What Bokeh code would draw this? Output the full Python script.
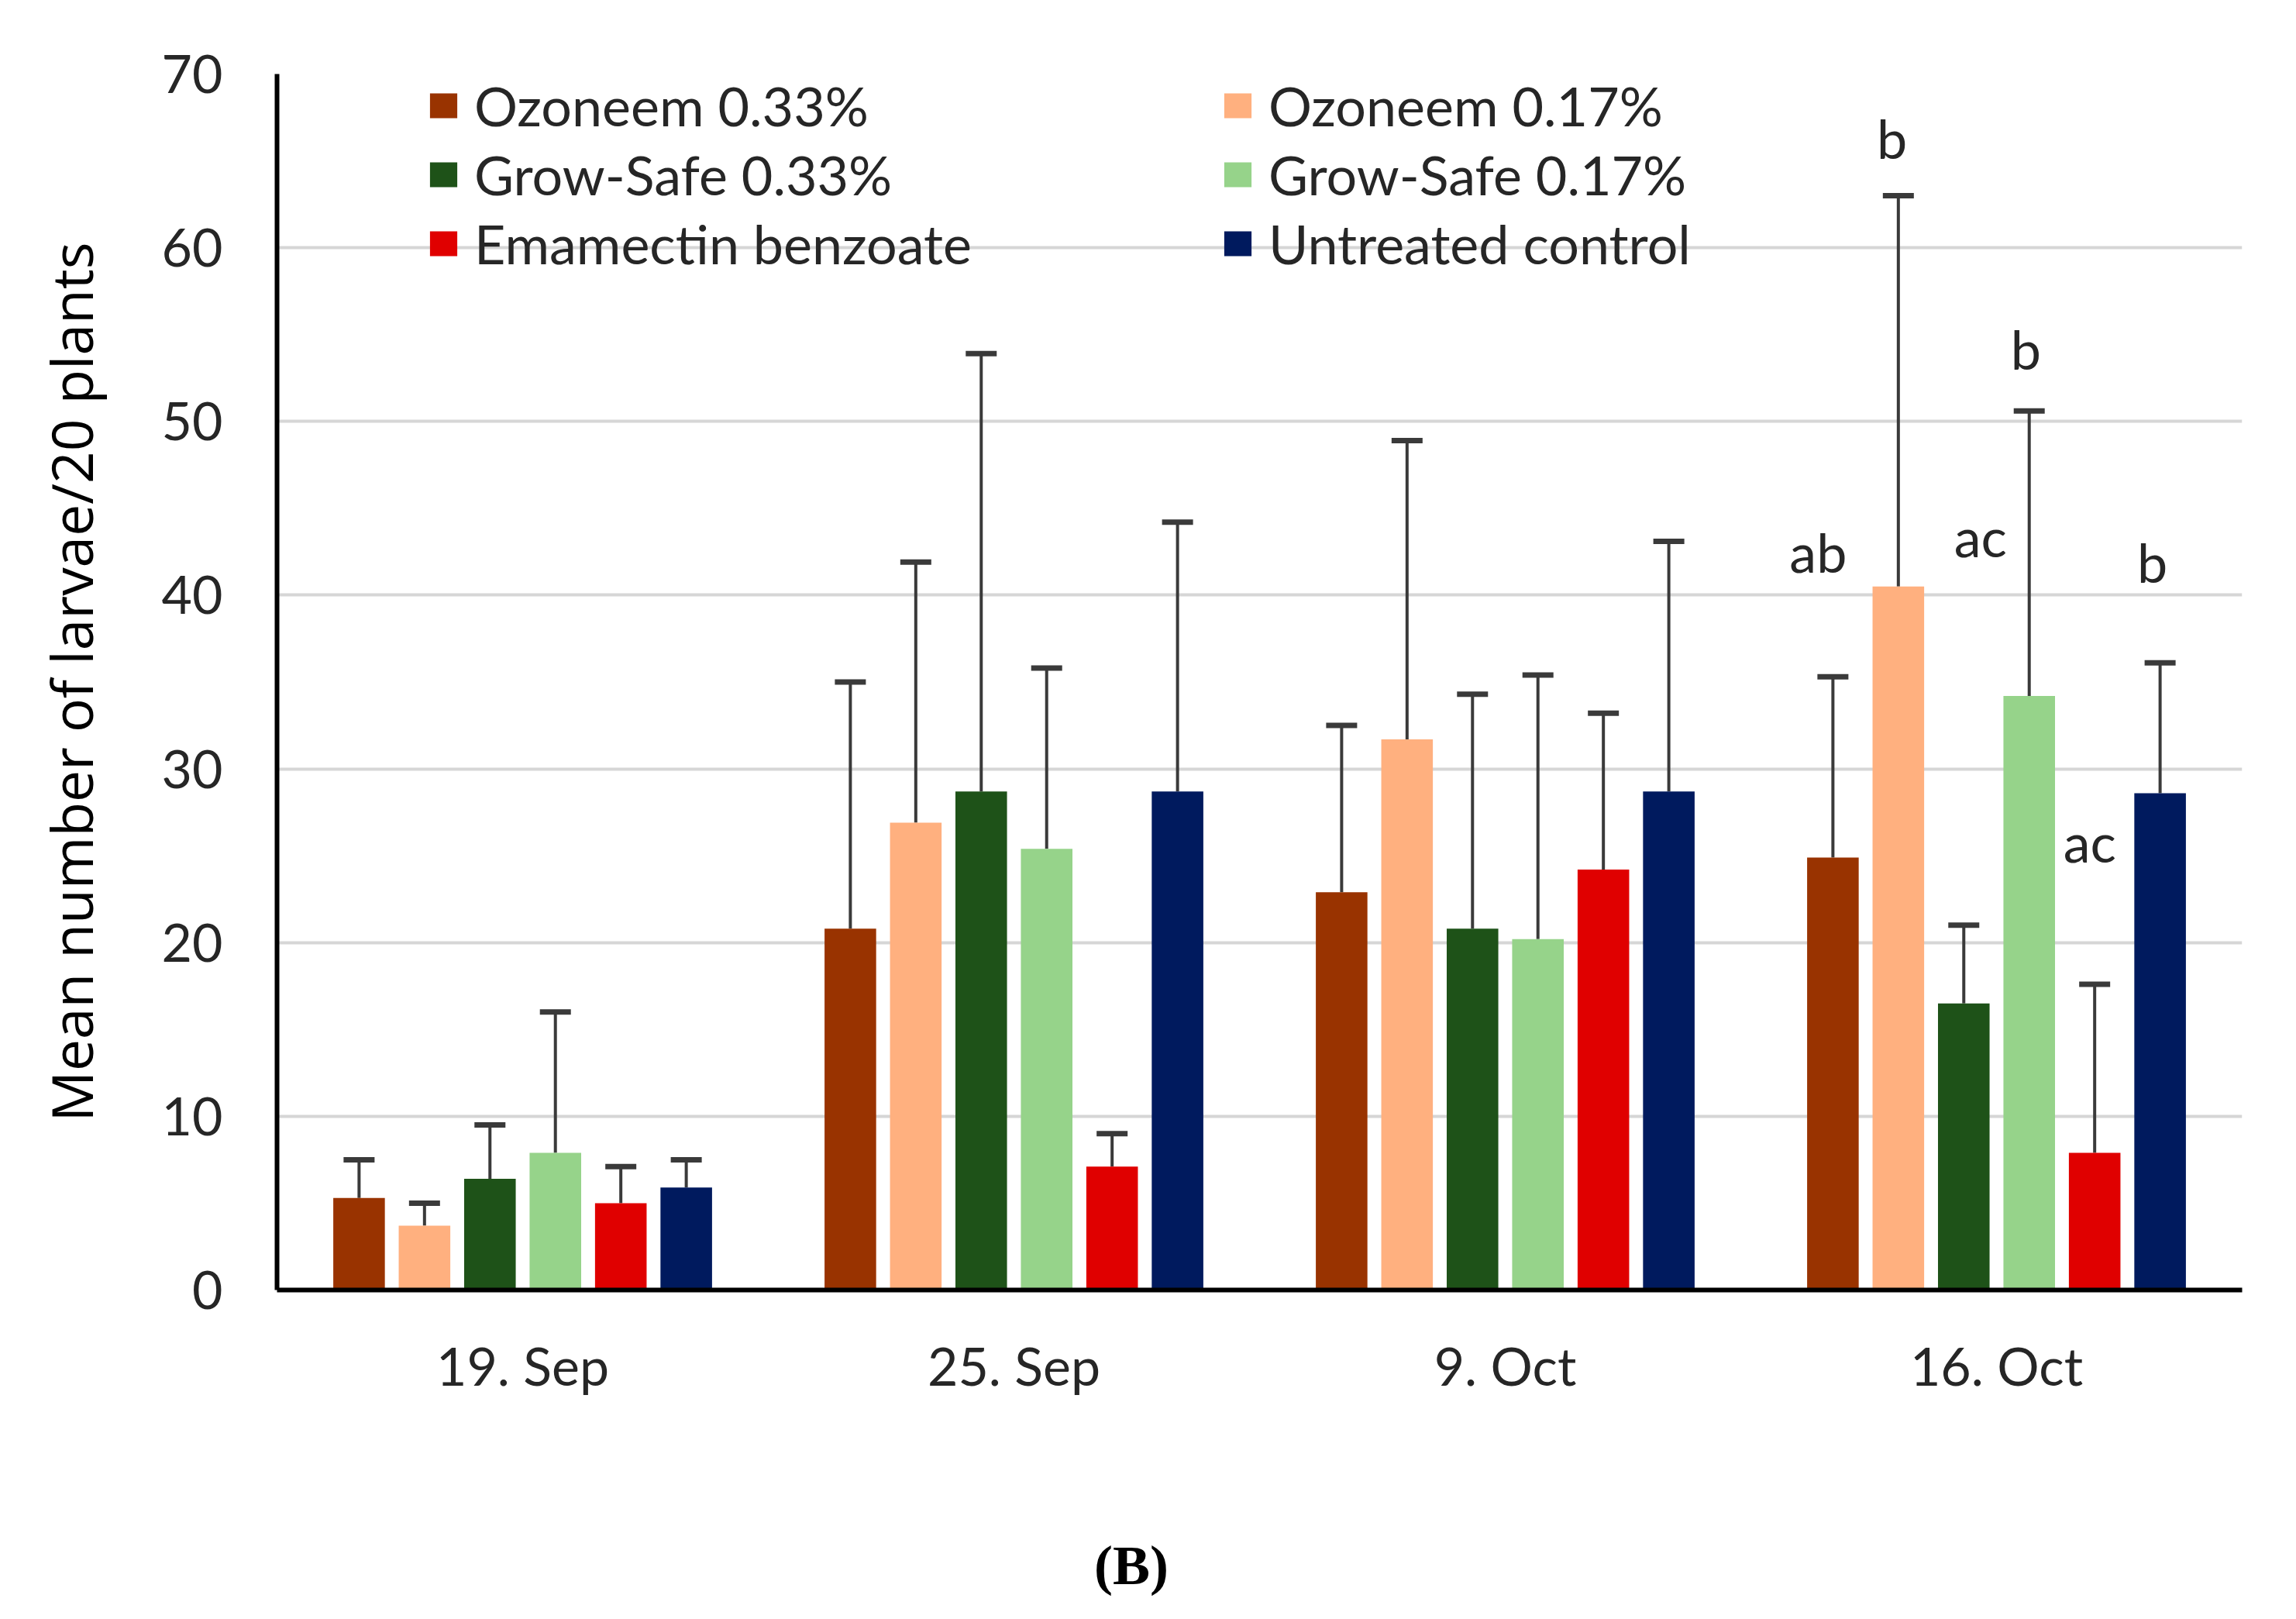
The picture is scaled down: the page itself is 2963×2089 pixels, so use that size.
from bokeh.plotting import figure
from bokeh.models import (ColumnDataSource, FactorRange, Range1d, Whisker, TeeHead,
                          Legend, LegendItem, FixedTicker, Div)
from bokeh.layouts import column
from bokeh.transform import dodge
from bokeh.core.properties import value
from bokeh.embed import file_html
from bokeh.resources import INLINE

# ---------------- data ----------------
dates = ["19. Sep", "25. Sep", "9. Oct", "16. Oct"]
series = ["Ozoneem 0.33%", "Ozoneem 0.17%", "Grow-Safe 0.33%",
          "Grow-Safe 0.17%", "Emamectin benzoate", "Untreated control"]
colors = ["#993300", "#FFB07F", "#1E5218", "#96D38A", "#E00000", "#001A5E"]

ozoneem_033 = [5.3, 20.8, 22.9, 24.9]
ozoneem_017 = [3.7, 26.9, 31.7, 40.5]
growsafe_033 = [6.4, 28.7, 20.8, 16.5]
growsafe_017 = [7.9, 25.4, 20.2, 34.2]
emamectin = [5.0, 7.1, 24.2, 7.9]
control = [5.9, 28.7, 28.7, 28.6]

ozoneem_033_err = [7.5, 35.0, 32.5, 35.3]
ozoneem_017_err = [5.0, 41.9, 48.9, 63.0]
growsafe_033_err = [9.5, 53.9, 34.3, 21.0]
growsafe_017_err = [16.0, 35.8, 35.4, 50.6]
emamectin_err = [7.1, 9.0, 33.2, 17.6]
control_err = [7.5, 44.2, 43.1, 36.1]

means = [ozoneem_033, ozoneem_017, growsafe_033, growsafe_017, emamectin, control]
err_tops = [ozoneem_033_err, ozoneem_017_err, growsafe_033_err,
            growsafe_017_err, emamectin_err, control_err]

letter_date = "16. Oct"
letters = ["ab", "b", "ac", "b", "ac", "b"]
letter_y = [42.5, 66.3, 43.4, 54.2, 25.8, 41.9]

y_ticks = [0, 10, 20, 30, 40, 50, 60, 70]
panel_tag = "(B)"

# ---------------- figure ----------------
W, H = 2940, 1960
p = figure(width=W, height=H, output_backend="svg", toolbar_location=None,
           x_range=FactorRange(factors=dates), y_range=Range1d(0, 70),
           min_border_left=357, min_border_right=47, min_border_top=95,
           min_border_bottom=296)
p.outline_line_color = None
p.background_fill_color = "white"

FONT = "Lato"

p.xgrid.grid_line_color = None
p.ygrid.grid_line_color = "#D6D6D6"
p.ygrid.grid_line_width = 4
p.yaxis.ticker = FixedTicker(ticks=y_ticks)

for ax in (p.xaxis, p.yaxis):
    ax.major_tick_line_color = None
    ax.minor_tick_line_color = None
    ax.axis_line_color = "black"
    ax.major_label_text_font = FONT
    ax.major_label_text_font_size = "68px"
    ax.major_label_text_color = "#262626"

p.yaxis.axis_line_width = 6
p.xaxis.axis_line_width = 6
p.yaxis.major_label_standoff = 64
p.xaxis.major_label_standoff = 50
p.yaxis.axis_label = "Mean number of larvae/20 plants"
p.yaxis.axis_label_text_font = "Open Sans"
p.yaxis.axis_label_text_font_style = "normal"
p.yaxis.axis_label_text_font_size = "73px"
p.yaxis.axis_label_text_color = "#000000"
p.yaxis.axis_label_standoff = 65

step = 0.1332
bar_w = 0.105
items = []
for i, name in enumerate(series):
    off = (i - 2.5) * step
    src = ColumnDataSource(dict(x=dates, top=means[i], upper=err_tops[i]))
    r = p.vbar(x=dodge("x", off, range=p.x_range), top="top", width=bar_w,
               source=src, fill_color=colors[i], line_color=None)
    w = Whisker(base=dodge("x", off, range=p.x_range), lower="top", upper="upper",
                source=src, dimension="height", line_color="#3A3A3A", line_width=4,
                lower_head=None,
                upper_head=TeeHead(size=40, line_color="#3A3A3A", line_width=7))
    p.add_layout(w)
    items.append(LegendItem(label=name, renderers=[r]))

# significance letters
nudges = [-0.03, -0.013, 0.034, -0.007, -0.01, -0.016]
for i, (t, yv) in enumerate(zip(letters, letter_y)):
    off = (i - 2.5) * step + nudges[i]
    src = ColumnDataSource(dict(x=[letter_date], y=[yv], t=[t]))
    p.text(x=dodge("x", off, range=p.x_range), y="y", text="t", source=src,
           text_font=value(FONT), text_font_size="70px", text_color="#262626",
           text_align="center", text_baseline="middle")

# legend: two columns filled row by row
order = [0, 2, 4, 1, 3, 5]
legend = Legend(items=[items[k] for k in order], ncols=2, location=(193, 1306),
                glyph_width=44, glyph_height=40, label_standoff=18,
                label_width=963, label_height=89, spacing=0, padding=0, margin=0,
                border_line_color=None, background_fill_alpha=0,
                label_text_font=FONT, label_text_font_size="70px",
                label_text_color="#262626", label_text_baseline="middle")
p.add_layout(legend)

tag = Div(text=('<div style="width:2910px;text-align:center;'
                'font-family:\'Liberation Serif\';font-weight:bold;font-size:72px;'
                'line-height:110px;color:black;">' + panel_tag + '</div>'),
          width=W, height=110)

layout = column(p, tag, spacing=0)
open("out.html", "w").write(file_html(layout, INLINE))
